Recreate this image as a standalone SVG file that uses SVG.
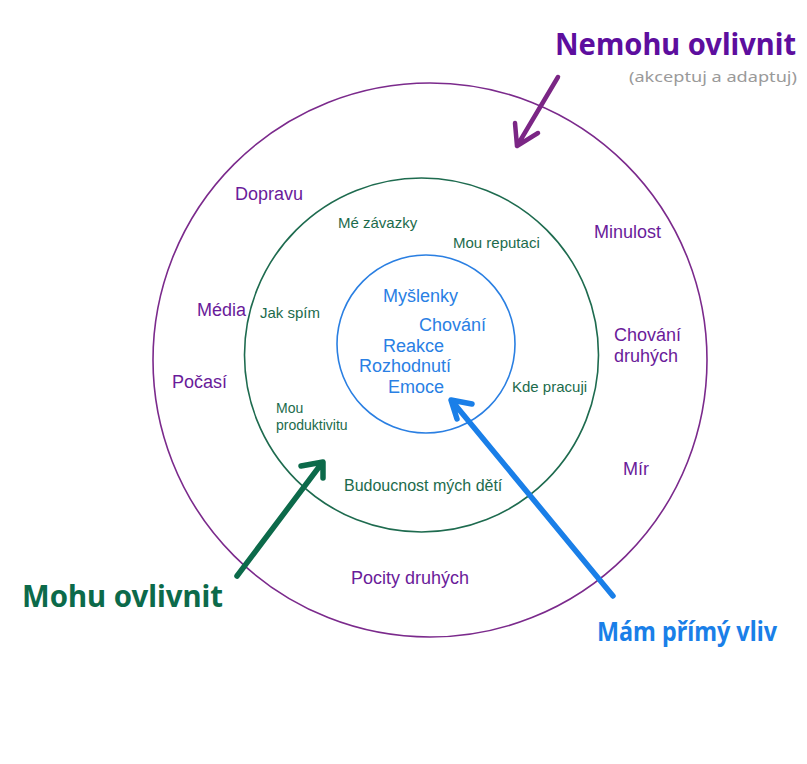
<svg xmlns="http://www.w3.org/2000/svg" width="807" height="764" viewBox="0 0 807 764">
<defs>
<style>
.ring{fill:none;stroke-width:1.6}
.lbl{font-family:"Liberation Sans",Arial,sans-serif}
.p{fill:#6a1b9a;font-size:18px}
.g{fill:#1c6b4c;font-size:15px}
.b{fill:#2a80e4;font-size:18px}
.hand{font-family:"Noto Sans","DejaVu Sans",sans-serif;font-weight:bold}
.arr{fill:none;stroke-linecap:round;stroke-linejoin:round}
</style>
</defs>
<rect width="807" height="764" fill="#ffffff"/>
<g id="outer-ring">
<circle class="ring" cx="430" cy="360" r="277" stroke="#7b2a8c"/>
</g>
<g id="middle-ring">
<circle class="ring" cx="421.5" cy="355" r="177" stroke="#1e6b4f"/>
</g>
<g id="inner-ring">
<circle class="ring" cx="426" cy="344" r="89" stroke="#2a7fe2"/>
</g>
<g id="outer-labels" class="lbl p">
<text x="235" y="200">Dopravu</text>
<text x="197" y="316">Média</text>
<text x="172" y="388">Počasí</text>
<text x="594" y="238">Minulost</text>
<text x="614" y="341">Chování</text>
<text x="614" y="362">druhých</text>
<text x="623" y="475">Mír</text>
<text x="351" y="584">Pocity druhých</text>
</g>
<g id="middle-labels" class="lbl g">
<text x="338" y="228">Mé závazky</text>
<text x="453" y="248">Mou reputaci</text>
<text x="260" y="318">Jak spím</text>
<text x="512" y="392">Kde pracuji</text>
<text x="276" y="413" font-size="14">Mou</text>
<text x="276" y="430" font-size="14">produktivitu</text>
<text x="344" y="491" font-size="16">Budoucnost mých dětí</text>
</g>
<g id="inner-labels" class="lbl b">
<text x="383" y="302">Myšlenky</text>
<text x="419" y="331">Chování</text>
<text x="383" y="352">Reakce</text>
<text x="359" y="372">Rozhodnutí</text>
<text x="388" y="393">Emoce</text>
</g>
<g id="title-nemohu">
<text class="hand" x="555" y="55" font-size="30" fill="#5d0e9e" textLength="241" lengthAdjust="spacingAndGlyphs">Nemohu ovlivnit</text>
<text x="629" y="82" font-family="'Noto Sans','DejaVu Sans',sans-serif" font-size="15" fill="#9a9a9a" textLength="168" lengthAdjust="spacingAndGlyphs">(akceptuj a adaptuj)</text>
</g>
<g id="title-mohu">
<text class="hand" x="22" y="607" font-size="31" fill="#0c6a4a" textLength="201" lengthAdjust="spacingAndGlyphs">Mohu ovlivnit</text>
</g>
<g id="title-mam">
<text class="hand" x="597" y="641" font-size="26" fill="#1a7fe8" textLength="180" lengthAdjust="spacingAndGlyphs">Mám přímý vliv</text>
</g>
<g id="connectors" class="arr">
<path d="M558 77 L517 146 M515 123 L517 146 L538 133" stroke="#7b2685" stroke-width="4.5"/>
<path d="M237 576 L322 463 M301 466 L323 462 L323 478" stroke="#0c6a4a" stroke-width="5.5"/>
<path d="M613 596 L452 401 M472 404 L451 400 L457 419" stroke="#1a7fe8" stroke-width="5.5"/>
</g>
</svg>
